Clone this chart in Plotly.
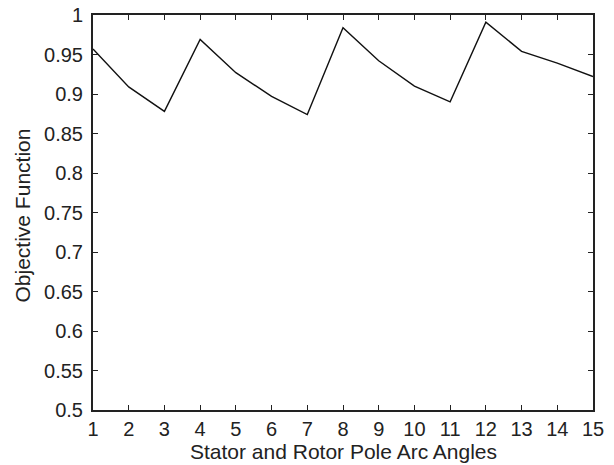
import plotly.graph_objects as go

angles = list(range(1, 16))
objective = [0.957, 0.909, 0.878, 0.969, 0.927, 0.897, 0.874, 0.984,
             0.942, 0.910, 0.890, 0.991, 0.954, 0.939, 0.922]
y_ticks = [0.5, 0.55, 0.6, 0.65, 0.7, 0.75, 0.8, 0.85, 0.9, 0.95, 1.0]
y_labels = ["0.5", "0.55", "0.6", "0.65", "0.7", "0.75", "0.8", "0.85", "0.9", "0.95", "1"]
x_title = "Stator and Rotor Pole Arc Angles"
y_title = "Objective Function"

fig = go.Figure(go.Scatter(x=angles, y=objective, mode="lines",
                           line=dict(color="#111", width=1.4)))

axis_common = dict(showgrid=False, zeroline=False, showline=True, linecolor="#222",
                   linewidth=2, mirror="ticks", ticks="inside", ticklen=5,
                   tickcolor="#222", tickwidth=1.2, automargin=False,
                   ticklabeloverflow="allow",
                   tickfont=dict(family="Liberation Sans, Arial", size=20, color="#222"))

# the page body adds an 8px offset at top/left, so the figure is 8px smaller
fig.update_layout(
    width=606, height=457,
    margin=dict(l=85, r=21, t=7, b=55),
    paper_bgcolor="white", plot_bgcolor="white",
    showlegend=False,
    font=dict(family="Liberation Sans, Arial", color="#222"),
    xaxis=dict(range=[1, 15], tickvals=angles, ticktext=[str(a) for a in angles],
               ticklabelstandoff=0, **axis_common),
    yaxis=dict(range=[0.5, 1.0], tickvals=y_ticks, ticktext=y_labels,
               ticklabelstandoff=4, **axis_common),
    annotations=[
        dict(text=x_title, xref="paper", yref="paper", x=0.5, y=0,
             xanchor="center", yanchor="top", yshift=-28, showarrow=False,
             font=dict(family="Liberation Sans, Arial", size=21, color="#222")),
        dict(text=y_title, xref="paper", yref="paper", x=0, y=0.5,
             xanchor="center", yanchor="middle", xshift=-71, yshift=-3,
             textangle=-90, showarrow=False,
             font=dict(family="Liberation Sans, Arial", size=21, color="#222")),
    ],
)

fig.write_html("out.html")
